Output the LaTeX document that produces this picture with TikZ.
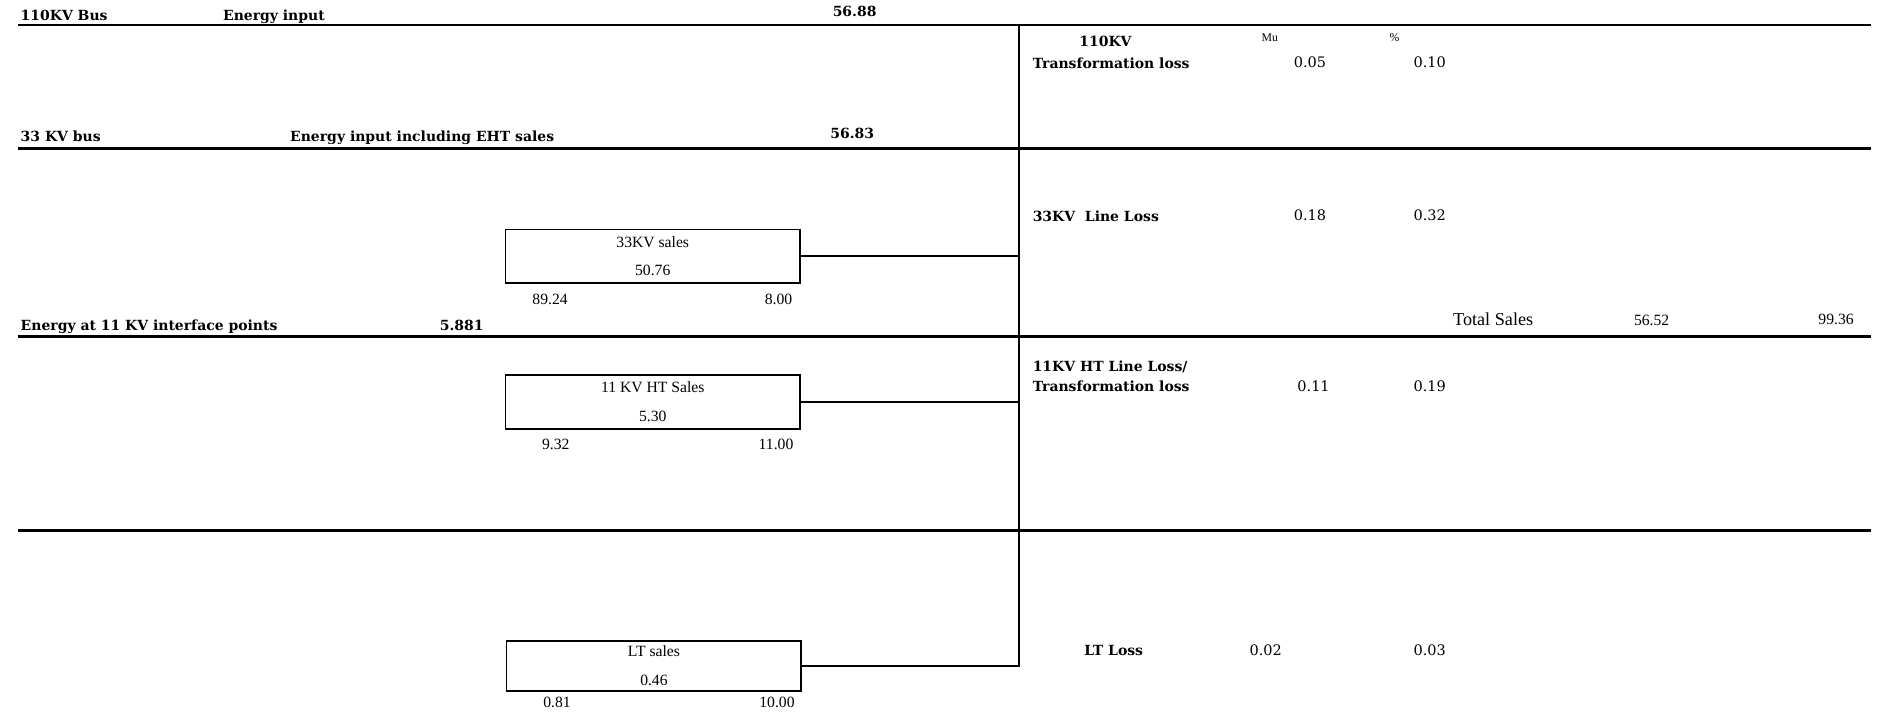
\documentclass[tikz,border=0pt]{standalone}
\usepackage{fontspec}
\setmainfont{Liberation Serif}
\newfontfamily\labfont{DejaVu Serif}
\usetikzlibrary{positioning}

\begin{document}
\begin{tikzpicture}[
    x=0.25mm, y=-0.25mm,
    bus/.style={line width=1.4pt},
    trunk/.style={line width=1pt},
    link/.style={line width=1pt},
    salebox/.style={draw, line width=1pt, rectangle, minimum width=61.5mm, minimum height=11.25mm, align=center, inner sep=0pt, font=\fontsize{9.3}{17}\selectfont},
    lab/.style={font=\labfont\bfseries\fontsize{8.3}{9.5}\selectfont, inner sep=0pt, anchor=base west, align=left},
    val/.style={font=\labfont\fontsize{8.6}{9}\selectfont, inner sep=0pt, anchor=base west},
    num/.style={font=\fontsize{9.3}{11}\selectfont, inner sep=0pt},
    head/.style={font=\fontsize{7}{8}\selectfont, inner sep=0pt, anchor=base west}
]
    \useasboundingbox (0,0) rectangle (1568,595);

    % Buses
    \draw[bus] (15,21) -- (1562,21);
    \draw[bus] (15,124) -- (1562,124);
    \draw[bus] (15,281) -- (1562,281);
    \draw[bus] (15,443) -- (1562,443);

    % 110KV bus
    \node[lab] (bus110) at (17,17) {110KV Bus};
    \node[lab] (in110) at (186,17) {Energy input};
    \node[lab] (v110) at (695,14) {56.88};

    % 33KV bus
    \node[lab] (bus33) at (17,118) {33 KV bus};
    \node[lab] (in33) at (242,118) {Energy input including EHT sales};
    \node[lab] (v33) at (693,116) {56.83};

    % 11KV interface
    \node[lab] (bus11) at (17,276) {Energy at 11 KV interface points};
    \node[lab] (v11) at (367,276) {5.881};

    % Sales boxes
    \node[salebox] (s33) at (545,214) {33KV sales\\50.76};
    \node[num, below right=2mm and 5.75mm of s33.south west] (s33a) {89.24};
    \node[num, below left=2mm and 1.75mm of s33.south east] (s33b) {8.00};

    \node[salebox] (s11) at (545,335.5) {11 KV HT Sales\\5.30};
    \node[num, below right=2mm and 7.75mm of s11.south west] (s11a) {9.32};
    \node[num, below left=2mm and 1.5mm of s11.south east] (s11b) {11.00};

    \node[salebox, minimum height=10.5mm] (slt) at (546,556) {LT sales\\0.46};
    \node[num, below right=1mm and 7.75mm of slt.south west] (slta) {0.81};
    \node[num, below left=1mm and 1.5mm of slt.south east] (sltb) {10.00};

    % Trunk and links
    \coordinate (top) at (851,21);
    \draw[trunk] (top) -- (top |- slt.east) -- (slt.east);
    \draw[link] (s33.east) -- (s33.east -| top);
    \draw[link] (s11.east) -- (s11.east -| top);

    % Losses
    \node[head] (mu) at (1053,35) {Mu};
    \node[head] (pc) at (1160,35) {\%};

    \node[lab, anchor=base] (l110a) at (923,39) {110KV};
    \node[lab] (l110) at (862,57) {Transformation loss};
    \node[val] (l110m) at (1080,56) {0.05};
    \node[val] (l110p) at (1180,56) {0.10};

    \node[lab] (l33) at (862,185) {33KV\ \ Line Loss};
    \node[val] (l33m) at (1080,184) {0.18};
    \node[val] (l33p) at (1180,184) {0.32};

    \node[lab] (l11a) at (862,310) {11KV HT Line Loss/};
    \node[lab] (l11) at (862,327) {Transformation loss};
    \node[val] (l11m) at (1083,327) {0.11};
    \node[val] (l11p) at (1180,327) {0.19};

    \node[lab] (llt) at (905,547) {LT Loss};
    \node[val] (lltm) at (1043,547) {0.02};
    \node[val] (lltp) at (1180,547) {0.03};

    % Total sales
    \node[num, font=\fontsize{10.8}{12}\selectfont, anchor=base west] (tot) at (1213,272) {Total Sales};
    \node[num, anchor=base west] (totm) at (1364,272) {56.52};
    \node[num, anchor=base east] (totp) at (1548,271) {99.36};

\end{tikzpicture}
\end{document}
